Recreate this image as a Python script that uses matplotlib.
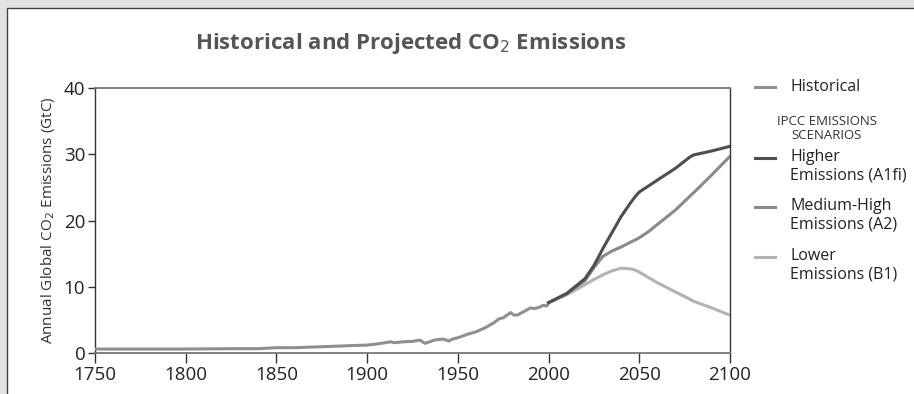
import matplotlib
matplotlib.use("Agg")
import matplotlib.pyplot as plt
from matplotlib.patches import Rectangle
from matplotlib.lines import Line2D

# ---------------- data ----------------
hist_years = [1750, 1775, 1800, 1825, 1840, 1850, 1860, 1870, 1880, 1890, 1900,
              1905, 1910, 1913, 1915, 1920, 1925, 1929, 1932, 1935, 1937, 1940,
              1942, 1945, 1947, 1950, 1955, 1960, 1965, 1970, 1973, 1975, 1979,
              1981, 1983, 1986, 1990, 1992, 1995, 1997, 1999, 2000]
hist_vals = [0.6, 0.6, 0.6, 0.65, 0.65, 0.8, 0.8, 0.9, 1.0, 1.1, 1.2,
             1.35, 1.55, 1.7, 1.55, 1.7, 1.75, 1.95, 1.45, 1.75, 1.95, 2.05,
             2.1, 1.8, 2.1, 2.3, 2.8, 3.2, 3.8, 4.6, 5.2, 5.3, 6.1,
             5.7, 5.75, 6.2, 6.8, 6.7, 6.9, 7.2, 7.1, 7.5]

proj_years = [2000, 2010, 2020, 2025, 2030, 2035, 2040, 2045, 2048, 2050, 2055,
              2060, 2065, 2070, 2078, 2080, 2090, 2100]
a1fi_vals = [7.6, 9.0, 11.2, 13.2, 15.8, 18.2, 20.6, 22.6, 23.7, 24.3, 25.2,
             26.1, 27.0, 27.9, 29.6, 29.9, 30.5, 31.2]
a2_vals   = [7.6, 8.9, 10.9, 12.9, 14.6, 15.4, 16.0, 16.7, 17.1, 17.4, 18.3,
             19.4, 20.5, 21.6, 23.7, 24.2, 26.9, 29.7]
b1_vals   = [7.6, 8.8, 10.3, 11.1, 11.8, 12.4, 12.8, 12.7, 12.5, 12.2, 11.4,
             10.6, 9.9, 9.2, 8.1, 7.8, 6.8, 5.7]

xticks = [1750, 1800, 1850, 1900, 1950, 2000, 2050, 2100]
yticks = [0, 10, 20, 30, 40]

title = "Historical and Projected CO$_2$ Emissions"
ylabel = "Annual Global CO$_2$ Emissions (GtC)"
legend_labels = ["Historical", "Higher\nEmissions (A1fi)",
                 "Medium-High\nEmissions (A2)", "Lower\nEmissions (B1)"]
legend_header = "IPCC EMISSIONS\nSCENARIOS"

# ---------------- style ----------------
W, H = 914, 394
FONT = "Open Sans"
plt.rcParams['font.family'] = [FONT, 'DejaVu Sans']
c_hist = "#8f8f8f"
c_a1fi = "#4e4e4e"
c_a2 = "#8a8a8a"
c_b1 = "#b3b3b3"
txt = "#222222"

fig = plt.figure(figsize=(W / 100, H / 100), dpi=100, facecolor="#e2e2e2")

def fx(px):
    return px / W

def fy(py):
    return 1 - py / H

# white panel with frame line (top and left)
fig.add_artist(Rectangle((fx(7.5), -0.1), 2, fy(8) + 0.1, transform=fig.transFigure,
                         facecolor="white", edgecolor="#444444", lw=1.0, zorder=0))

ax = fig.add_axes([fx(95), fy(353), fx(730) - fx(95), fy(88) - fy(353)])
ax.set_facecolor("white")

ax.plot(hist_years, hist_vals, color=c_hist, lw=2.2, solid_joinstyle="round", zorder=3)
ax.plot(proj_years, b1_vals, color=c_b1, lw=2.2, zorder=3)
ax.plot(proj_years, a2_vals, color=c_a2, lw=2.2, zorder=4)
ax.plot(proj_years, a1fi_vals, color=c_a1fi, lw=2.2, zorder=5)

ax.set_xlim(1750, 2100)
ax.set_ylim(0, 40)
ax.set_xticks(xticks)
ax.set_yticks(yticks)
ax.tick_params(axis="x", direction="out", length=7, width=1, colors="#333333",
               labelcolor=txt, labelsize=13.5, pad=2)
ax.tick_params(axis="y", direction="out", length=5, width=1, colors="#333333",
               labelcolor=txt, labelsize=13.5, pad=2)
for s in ["left", "right"]:
    ax.spines[s].set_color("#333333")
    ax.spines[s].set_linewidth(1.0)
for s in ["top", "bottom"]:
    ax.spines[s].set_color("#777777")
    ax.spines[s].set_linewidth(1.3)

ax.set_ylabel(ylabel, fontsize=11, color="#333333", labelpad=5)

fig.text(fx(411), fy(44), title, ha="center", va="center", fontsize=16,
         fontweight="bold", color="#555555")

# ---------------- legend ----------------
def legend_sample(ypx, color):
    fig.add_artist(Line2D([fx(755), fx(775)], [fy(ypx), fy(ypx)], transform=fig.transFigure,
                          color=color, lw=2.2))

legend_sample(87, c_hist)
fig.text(fx(790), fy(87), legend_labels[0], ha="left", va="center",
         fontsize=11.5, color=txt)
fig.text(fx(827), fy(115), legend_header, ha="center", va="top", fontsize=9.5,
         color="#333333", linespacing=1.1)

def legend_entry2(ypx, color, label):
    legend_sample(ypx, color)
    fig.text(fx(790), fy(ypx - 9), label, ha="left", va="top",
             fontsize=11.5, color=txt, linespacing=1.2)

legend_entry2(158, c_a1fi, legend_labels[1])
legend_entry2(207, c_a2, legend_labels[2])
legend_entry2(257, c_b1, legend_labels[3])

fig.savefig("out.png", dpi=100, facecolor=fig.get_facecolor())
